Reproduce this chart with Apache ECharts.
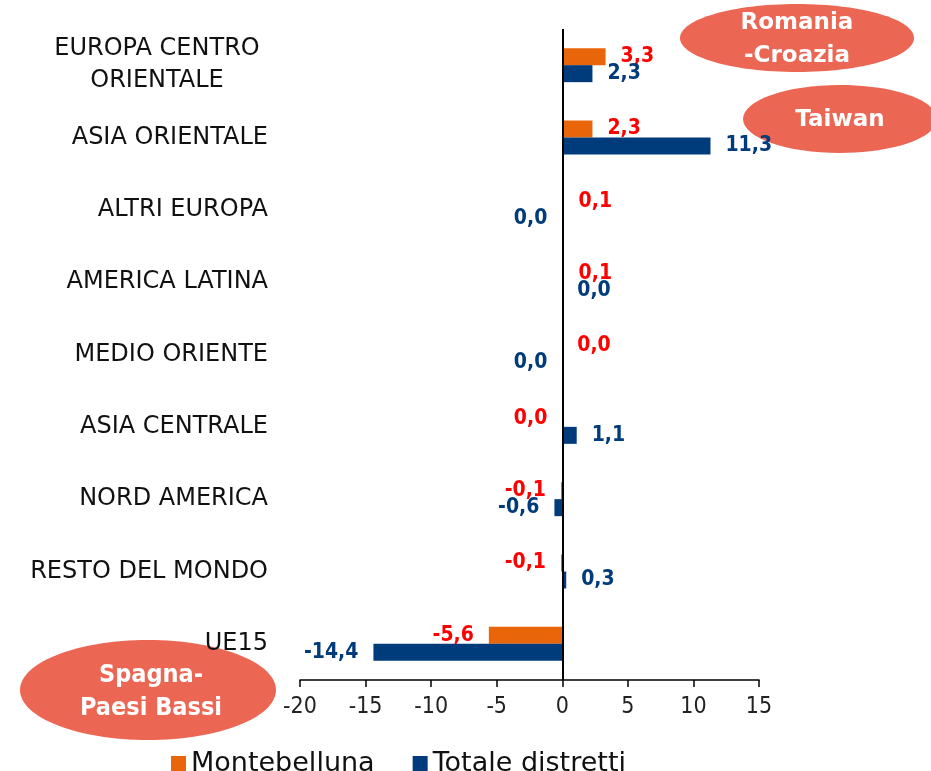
<!DOCTYPE html>
<html>
<head>
<meta charset="utf-8">
<script src="https://cdn.jsdelivr.net/npm/echarts@6/dist/echarts.min.js"></script>
<style>
  html, body { margin: 0; padding: 0; background: #fff; }
  #chart { width: 931px; height: 771px; }
</style>
</head>
<body>
<div id="chart"></div>
<script>
const categories = [
  'EUROPA CENTRO\nORIENTALE',
  'ASIA ORIENTALE',
  'ALTRI EUROPA',
  'AMERICA LATINA',
  'MEDIO ORIENTE',
  'ASIA CENTRALE',
  'NORD AMERICA',
  'RESTO DEL MONDO',
  'UE15'
]
const montebelluna = [3.3, 2.3, 0.1, 0.1, 0.0, 0.0, -0.1, -0.1, -5.6]
const totaleDistretti = [2.3, 11.3, 0.0, 0.0, 0.0, 1.1, -0.6, 0.3, -14.4]
const xTicks = [-20, -15, -10, -5, 0, 5, 10, 15]

// zero values whose label sits on the left of the axis in the original
const zeroLeftMontebelluna = ['ASIA CENTRALE']
const zeroLeftTotale = ['ALTRI EUROPA', 'MEDIO ORIENTE']

const ORANGE = '#E8650A'
const NAVY = '#003B7B'
const CORAL = '#EC6654'
const catFont = '"DejaVu Sans", "Noto Sans", sans-serif'
const condFont = '"DejaVu Sans Condensed", "DejaVu Sans", sans-serif'
const narrowFont = '"Liberation Sans Narrow", "DejaVu Sans Condensed", sans-serif'

const fmt = v => v.toFixed(1).replace('.', ',')

function withLabels(values, zeroLeft) {
  return values.map((v, i) => {
    const left = v < 0 || (v === 0 && zeroLeft.includes(categories[i]))
    return { value: v, label: { position: left ? 'left' : 'right' } }
  })
}

const chart = echarts.init(document.getElementById('chart'))

const labelBase = {
  show: true,
  distance: 15,
  fontFamily: condFont,
  fontWeight: 'bold',
  fontSize: 21,
  formatter: p => fmt(p.value)
}

const option = {
  animation: false,
  grid: { left: 300, right: 172, top: 29, bottom: 91 },
  legend: {
    left: 166,
    top: 745,
    itemWidth: 15,
    itemHeight: 15,
    itemGap: 38,
    icon: 'rect',
    textStyle: { fontSize: 27, fontFamily: catFont, color: '#111' },
    data: ['Montebelluna', 'Totale distretti']
  },
  xAxis: {
    type: 'value',
    min: xTicks[0],
    max: xTicks[xTicks.length - 1],
    interval: 5,
    splitLine: { show: false },
    axisLine: { show: true, lineStyle: { color: '#000', width: 1.5 } },
    axisTick: { show: true, length: 7, lineStyle: { color: '#000', width: 1.5 } },
    axisLabel: { fontSize: 23, fontFamily: narrowFont, color: '#222', margin: 16 }
  },
  yAxis: {
    type: 'category',
    inverse: true,
    data: categories,
    axisLine: { show: false },
    axisTick: { show: false },
    axisLabel: {
      margin: 32,
      fontSize: 24,
      fontFamily: catFont,
      color: '#111',
      formatter: v => v.includes('\n') ? v.split('\n').map(s => '{c|' + s + '}').join('\n') : v,
      rich: {
        c: { width: 222, align: 'center', fontSize: 24, fontFamily: catFont, color: '#111', lineHeight: 32 }
      }
    }
  },
  series: [
    {
      name: 'Montebelluna',
      type: 'bar',
      barWidth: 17,
      barGap: '0%',
      itemStyle: { color: ORANGE },
      label: Object.assign({}, labelBase, { color: '#FF0000' }),
      data: withLabels(montebelluna, zeroLeftMontebelluna),
      markLine: {
        silent: true,
        symbol: 'none',
        label: { show: false },
        lineStyle: { color: '#000', type: 'solid', width: 2 },
        data: [{ xAxis: 0 }]
      }
    },
    {
      name: 'Totale distretti',
      type: 'bar',
      barWidth: 17,
      itemStyle: { color: NAVY },
      label: Object.assign({}, labelBase, { color: NAVY }),
      data: withLabels(totaleDistretti, zeroLeftTotale)
    }
  ],
  graphic: [
    { type: 'ellipse', shape: { cx: 797, cy: 38, rx: 117, ry: 34 }, style: { fill: CORAL } },
    { type: 'text', style: { text: 'Romania\n-Croazia', x: 797, y: 40, align: 'center', verticalAlign: 'middle', fill: '#fff', font: 'bold 23px ' + catFont, lineHeight: 33 } },
    { type: 'ellipse', shape: { cx: 840, cy: 119, rx: 97, ry: 34 }, style: { fill: CORAL } },
    { type: 'text', style: { text: 'Taiwan', x: 840, y: 120, align: 'center', verticalAlign: 'middle', fill: '#fff', font: 'bold 23px ' + catFont } },
    { type: 'ellipse', shape: { cx: 148, cy: 690, rx: 128, ry: 50 }, style: { fill: CORAL } },
    { type: 'text', style: { text: 'Spagna-\nPaesi Bassi', x: 151, y: 692, align: 'center', verticalAlign: 'middle', fill: '#fff', font: 'bold 25px ' + narrowFont, lineHeight: 33 } }
  ]
}

chart.setOption(option)
window.addEventListener('resize', () => chart.resize())
</script>
</body>
</html>
